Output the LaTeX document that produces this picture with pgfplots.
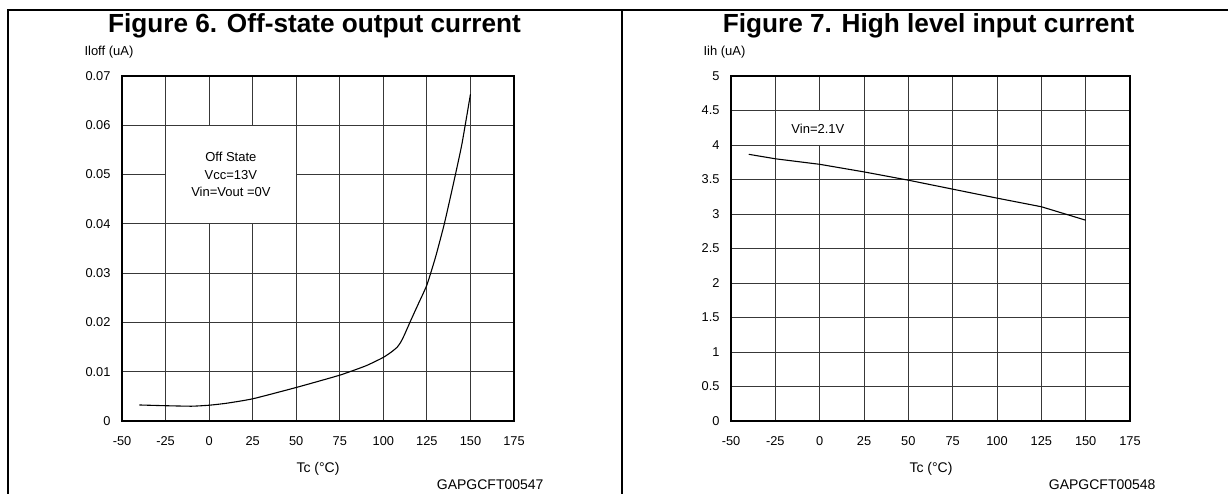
\documentclass[border=0pt]{standalone}
\usepackage{fontspec}
\setmainfont{Liberation Sans}
\usepackage{pgfplots}
\pgfplotsset{compat=1.18}
\pgfplotsset{
  dsheet/.style={
    anchor=south west, scale only axis,
    xmin=-50, xmax=175,
    xtick={-50,-25,0,25,50,75,100,125,150,175},
    xticklabels={-50,-25,0,25,50,75,100,125,150,175},
    scaled y ticks=false, scaled x ticks=false,
    grid=major,
    major grid style={black!78, line width=0.85bp},
    major tick length=0pt,
    axis line style={black, line width=1.3bp},
    ticklabel style={font=\fontsize{12.8bp}{14bp}\selectfont},
    xticklabel style={yshift=-12bp},
    yticklabel style={xshift=-8bp},
    clip=false,
  }
}
\begin{document}
\begin{tikzpicture}[x=1bp,y=1bp]
\useasboundingbox (0,0) rectangle (1228,494);
% panel frames
\draw[line width=2bp] (8,0) -- (8,484) -- (1228,484);
\draw[line width=2bp] (622,484) -- (622,0);
% titles
\node[anchor=base, font=\fontsize{26.2bp}{30bp}\selectfont\bfseries] at (314.5,461.5) {Figure 6. Off-state output current};
\node[anchor=base, font=\fontsize{26.2bp}{30bp}\selectfont\bfseries] at (928.5,461.5) {Figure 7. High level input current};
% axis titles
\node[anchor=west, font=\fontsize{13bp}{15bp}\selectfont] at (81,442) {Iloff (uA)};
\node[anchor=west, font=\fontsize{13bp}{15bp}\selectfont] at (700,442) {Iih (uA)};
\node[font=\fontsize{14bp}{16bp}\selectfont] at (318,25) {Tc (°C)};
\node[font=\fontsize{14bp}{16bp}\selectfont] at (931,25) {Tc (°C)};
\node[anchor=east, font=\fontsize{14bp}{16bp}\selectfont] at (547,9.5) {GAPGCFT00547};
\node[anchor=east, font=\fontsize{14bp}{16bp}\selectfont] at (1159,9.5) {GAPGCFT00548};

\begin{axis}[dsheet, at={(122bp,73bp)}, width=392bp, height=345bp,
  ymin=0, ymax=0.07,
  ytick={0,0.01,0.02,0.03,0.04,0.05,0.06,0.07},
  yticklabels={0,0.01,0.02,0.03,0.04,0.05,0.06,0.07}]
\fill[white] (axis cs:-25,0.04) rectangle (axis cs:50,0.06);
\draw[black!78, line width=0.85bp] (axis cs:-25,0.04) rectangle (axis cs:50,0.06);
\node[align=center, font=\fontsize{13bp}{17.5bp}\selectfont] at (axis cs:12.5,0.05) {Off State\\Vcc=13V\\Vin=Vout =0V};
\addplot[black, line width=1.1bp, smooth, tension=0.3] coordinates {
(-40,0.00325) (-25,0.0031) (-10,0.0030) (0,0.0032) (10,0.0036) (25,0.0045)
(50,0.0068) (75,0.0093) (90,0.0112) (100,0.0129) (105,0.0141) (108,0.0150)
(110,0.0160) (112,0.0174) (114,0.0190) (116,0.0206) (120,0.0237) (125,0.0276)
(130,0.0333) (135,0.0400) (140,0.0478) (145,0.0560) (150,0.0663)};
\end{axis}

\begin{axis}[dsheet, at={(731bp,73bp)}, width=399bp, height=345bp,
  ymin=0, ymax=5,
  ytick={0,0.5,1,1.5,2,2.5,3,3.5,4,4.5,5},
  yticklabels={0,0.5,1,1.5,2,2.5,3,3.5,4,4.5,5}]
\fill[white] (axis cs:-25,4) rectangle (axis cs:25,4.5);
\draw[black!78, line width=0.85bp] (axis cs:-25,4) rectangle (axis cs:25,4.5);
\node[font=\fontsize{13bp}{15bp}\selectfont] at (axis cs:-1,4.23) {Vin=2.1V};
\addplot[black, line width=1.1bp] coordinates {
(-40,3.865) (-25,3.80) (0,3.72) (25,3.61) (50,3.49) (75,3.36)
(100,3.23) (125,3.105) (150,2.91)};
\end{axis}
\end{tikzpicture}
\end{document}
